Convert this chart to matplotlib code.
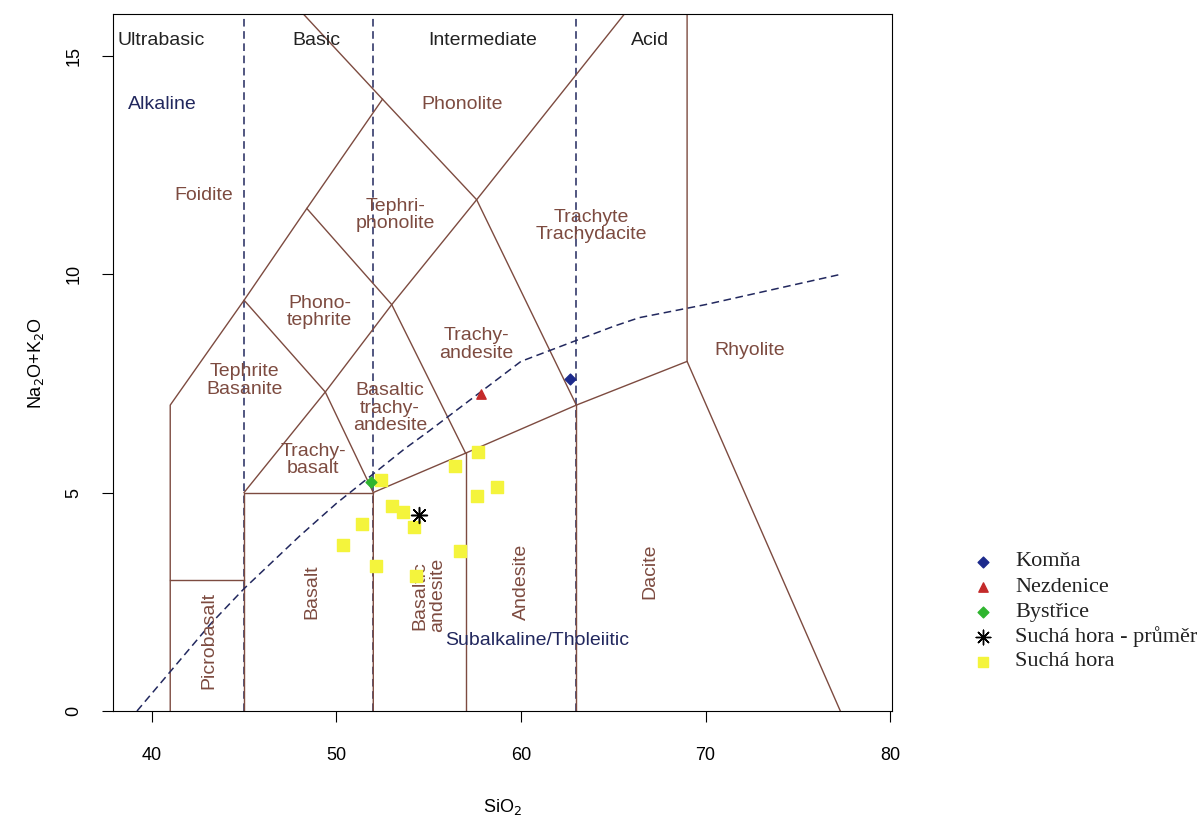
import numpy as np
import matplotlib.pyplot as plt

# --- sample data (SiO2, Na2O+K2O) ---
komna_si = [62.65]
komna_alk = [7.6]
nezd_si = [57.85]
nezd_alk = [7.25]
bystr_si = [51.9]
bystr_alk = [5.25]
prumer_si = [54.5]
prumer_alk = [4.48]
sucha_si = [52.4, 56.4, 57.65, 58.7, 57.6, 53.0, 53.6, 54.2, 51.4, 50.35, 56.7, 52.15, 54.3]
sucha_alk = [5.29, 5.6, 5.92, 5.13, 4.93, 4.69, 4.55, 4.2, 4.28, 3.81, 3.66, 3.32, 3.1]

# Irvine & Baragar alkaline / subalkaline divide
ib_si = [39.2, 40, 43.2, 45, 48, 50, 53.7, 55, 60, 65, 66.4, 70, 77.4]
ib_alk = [0, 0.4, 2, 2.8, 4, 4.75, 6, 6.4, 8, 8.8, 9, 9.3, 10]

# TAS field boundaries, one polyline each
borders = [
    [(41, 0), (41, 7), (45, 9.4), (48.4, 11.5), (52.5, 14)],
    [(48.1, 16), (52.5, 14), (57.6, 11.7), (63, 7)],
    [(45, 5), (49.4, 7.3), (53, 9.3), (57.6, 11.7), (65.7, 16)],
    [(45, 9.4), (49.4, 7.3), (52, 5)],
    [(48.4, 11.5), (53, 9.3), (57, 5.9)],
    [(41, 3), (45, 3)],
    [(45, 0), (45, 5), (52, 5)],
    [(52, 0), (52, 5), (57, 5.9), (63, 7), (69, 8)],
    [(57, 0), (57, 5.9)],
    [(63, 0), (63, 7)],
    [(69, 16), (69, 8), (77.3, 0)],
]
group_x = [45, 52, 63]

field_names = ["Foidite", "Tephri-\nphonolite", "Phonolite", "Trachyte\nTrachydacite",
               "Phono-\ntephrite", "Trachy-\nandesite", "Rhyolite", "Tephrite\nBasanite",
               "Basaltic\ntrachy-\nandesite", "Trachy-\nbasalt"]
field_x = [42.8, 53.2, 56.8, 63.8, 49.1, 57.6, 72.4, 45.0, 52.9, 48.75]
field_y = [11.8, 11.35, 13.87, 11.1, 9.13, 8.38, 8.26, 7.57, 6.93, 5.74]

vert_names = ["Basalt", "Picrobasalt", "Basaltic\nandesite", "Andesite", "Dacite"]
vert_x = [48.65, 43.1, 55.0, 60.0, 67.0]
vert_y = [2.72, 1.62, 2.65, 2.95, 3.2]

groups = ["Ultrabasic", "Basic", "Intermediate", "Acid"]
groups_x = [40.5, 48.9, 57.9, 67.0]

leg_labels = ["Komňa", "Nezdenice", "Bystřice", "Suchá hora - průměr", "Suchá hora"]

brown = "#7d4b40"
navy = "#22285e"
c_komna = '#1c2a8c'
c_nezd = '#c42a2a'
c_bystr = '#2fb52f'
c_sucha = '#f4f43c'

plt.rcParams['font.family'] = 'Liberation Sans'
fig = plt.figure(figsize=(12.01, 8.18), dpi=100)
ax = fig.add_axes([113/1201, 1-711/818, 779/1201, 697/818])

for gx in group_x:
    ax.plot([gx, gx], [0, 16], color=navy, lw=1.1, ls=(0, (5, 3)))
for b in borders:
    xs, ys = zip(*b)
    ax.plot(xs, ys, color=brown, lw=1.0)
ax.plot(ib_si, ib_alk, color=navy, lw=1.1, ls=(0, (5, 3)))

for n, x, y in zip(field_names, field_x, field_y):
    ax.text(x, y, n, color=brown, fontsize=14, ha='center', va='center', linespacing=1.05)
for n, x, y in zip(vert_names, vert_x, vert_y):
    ax.text(x, y, n, color=brown, fontsize=14, ha='center', va='center', rotation=90, linespacing=1.05)
for n, x in zip(groups, groups_x):
    ax.text(x, 15.35, n, color='#222222', fontsize=14, ha='center', va='center')
ax.text(40.55, 13.87, "Alkaline", color=navy, fontsize=14, ha='center', va='center')
ax.text(60.9, 1.62, "Subalkaline/Tholeiitic", color=navy, fontsize=14, ha='center', va='center')

ax.scatter(sucha_si, sucha_alk, marker='s', s=70, color=c_sucha, zorder=5)
ax.scatter(komna_si, komna_alk, marker='D', s=30, color=c_komna, zorder=6)
ax.scatter(nezd_si, nezd_alk, marker='^', s=45, color=c_nezd, zorder=6)
ax.scatter(bystr_si, bystr_alk, marker='D', s=30, color=c_bystr, zorder=6)
ax.scatter(prumer_si, prumer_alk, marker=(8, 2, 0), s=130, color='black', lw=1.1, zorder=7)

ax.set_xlim(37.9, 80.1)
ax.set_ylim(0, 15.95)
ax.set_xticks([40, 50, 60, 70, 80])
ax.set_yticks([0, 5, 10, 15])
ax.tick_params(length=8, labelsize=13, pad=18)
ax.tick_params(axis='y', pad=14)
for lab in ax.get_yticklabels():
    lab.set_rotation(90)
    lab.set_va('center')
ax.set_xlabel("SiO$_2$", fontsize=13, labelpad=24)
ax.set_ylabel("Na$_2$O+K$_2$O", fontsize=13, labelpad=14)

# legend drawn by hand in an invisible overlay axes using pixel-like coords
lax = fig.add_axes([0, 0, 1, 1])
lax.set_xlim(0, 1201)
lax.set_ylim(818, 0)
lax.axis('off')
leg_markers = [('D', 30, c_komna), ('^', 45, c_nezd), ('D', 30, c_bystr),
               ((8, 2, 0), 110, 'black'), ('s', 60, c_sucha)]
for i, ((m, s, c), lbl) in enumerate(zip(leg_markers, leg_labels)):
    yy = 562 + 25 * i
    lax.scatter([983], [yy], marker=m, s=s, color=c, lw=1.0)
    lax.text(1015, yy, lbl, family='Liberation Serif', fontsize=16, va='center', ha='left',
             color='#222222')

fig.savefig("out.png")
